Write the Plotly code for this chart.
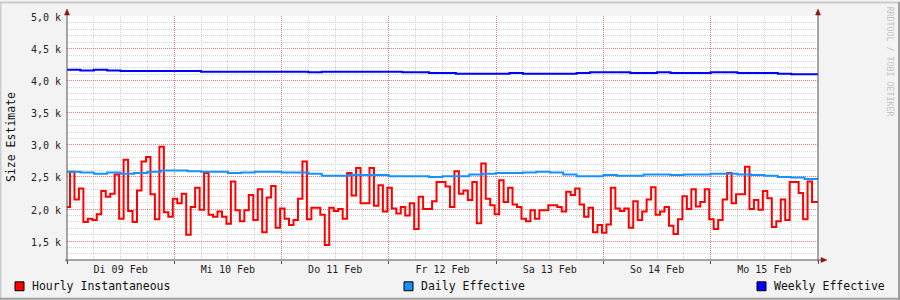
import plotly.graph_objects as go
import pandas as pd

# ---------------- data ----------------
hourly = [
    2.03, 2.58, 2.15, 2.32, 1.80, 1.85, 1.83, 1.92, 2.28, 2.19, 2.24, 2.54, 1.85, 2.77, 1.97, 1.80,
    2.29, 2.74, 2.81, 2.23, 1.84, 2.97, 1.95, 1.88, 2.16, 2.09, 2.24, 1.60,
    2.03, 2.33, 1.99, 2.56, 1.91, 1.88, 1.96, 1.88, 1.77, 2.43, 1.98, 1.81, 1.98, 2.22, 1.83, 2.31,
    1.64, 2.18, 2.36, 1.71, 2.01, 1.85, 1.75, 1.83, 2.16, 2.74, 1.84, 2.02,
    2.02, 1.91, 1.44, 2.02, 1.97, 2.00, 1.85, 2.56, 2.21, 2.64, 2.09, 2.09, 2.64, 2.05, 2.37, 1.96,
    2.33, 2.01, 1.93, 2.03, 1.90, 2.09, 1.69, 2.19, 2.00, 2.00, 2.12, 2.42,
    2.42, 2.35, 2.03, 2.59, 2.24, 2.29, 2.14, 2.42, 1.78, 2.71, 2.16, 2.06, 1.92, 2.45, 2.11, 2.33,
    2.07, 2.03, 1.85, 1.81, 1.98, 1.85, 1.98, 1.98, 2.06, 2.06, 2.03, 1.96, 2.27,
    2.22, 2.32, 2.07, 1.88, 2.02, 1.64, 1.75, 1.63, 1.76, 2.33, 2.01, 1.97, 2.01, 1.71, 2.12, 1.83,
    1.96, 2.15, 2.34, 1.91, 1.96, 2.03, 1.74, 1.61, 1.84, 2.20, 2.00, 2.31,
    2.04, 2.11, 2.31, 1.84, 1.69, 1.83, 2.15, 2.56, 2.09, 2.23, 2.23, 2.66, 2.00, 2.14, 1.99, 2.28,
    2.17, 1.72, 1.81, 2.15, 1.83, 2.42, 2.42, 2.25, 1.84, 2.43, 2.11,
]
daily = [
    2.58, 2.57, 2.55, 2.57, 2.55, 2.56, 2.58, 2.60, 2.60, 2.59, 2.58, 2.58, 2.56, 2.57, 2.58, 2.58,
    2.57, 2.57, 2.55, 2.52, 2.52, 2.53, 2.53, 2.53, 2.51, 2.51, 2.51, 2.50, 2.51, 2.51, 2.54, 2.55,
    2.56, 2.56, 2.57, 2.58, 2.57, 2.54, 2.51, 2.51, 2.53, 2.52, 2.52, 2.54, 2.54, 2.53, 2.54, 2.54,
    2.55, 2.55, 2.54, 2.53, 2.52, 2.50, 2.49, 2.47,
]
weekly = [
    4.17, 4.16, 4.17, 4.16, 4.15, 4.15, 4.15, 4.15, 4.15, 4.15, 4.14, 4.14, 4.14, 4.14, 4.14, 4.14,
    4.14, 4.14, 4.13, 4.14, 4.14, 4.14, 4.14, 4.14, 4.14, 4.13, 4.13, 4.12, 4.12, 4.11, 4.11, 4.11,
    4.11, 4.12, 4.11, 4.11, 4.11, 4.11, 4.12, 4.13, 4.13, 4.13, 4.12, 4.12, 4.13, 4.12, 4.12, 4.12,
    4.13, 4.13, 4.12, 4.12, 4.12, 4.11, 4.10, 4.10,
]
day_labels = ["Di 09 Feb", "Mi 10 Feb", "Do 11 Feb", "Fr 12 Feb", "Sa 13 Feb", "So 14 Feb", "Mo 15 Feb"]
y_tick_vals = [1.5, 2.0, 2.5, 3.0, 3.5, 4.0, 4.5, 5.0]
y_tick_text = ["1,5 k", "2,0 k", "2,5 k", "3,0 k", "3,5 k", "4,0 k", "4,5 k", "5,0 k"]
series_names = ["Hourly Instantaneous", "Daily Effective", "Weekly Effective"]

# ---------------- time axes ----------------
start = pd.Timestamp("2016-02-09 00:00")
end = pd.Timestamp("2016-02-16 00:00")
t_hourly = pd.date_range("2016-02-08 23:40", periods=len(hourly), freq="h")
t_3h = pd.date_range(start, periods=len(daily), freq="3h")
midnights = pd.date_range(start, end, freq="D")
noons = pd.date_range("2016-02-09 12:00", periods=len(day_labels), freq="D")


def extend(t, v):
    return list(t) + [end], list(v) + [v[-1]]


colors = ["#ff0000", "#1592ff", "#0000ff"]
MONO = "DejaVu Sans Mono"

fig = go.Figure()
for t, v, c, n in [(t_hourly, hourly, colors[0], series_names[0]),
                   (t_3h, daily, colors[1], series_names[1]),
                   (t_3h, weekly, colors[2], series_names[2])]:
    xx, yy = extend(t, v)
    fig.add_trace(go.Scatter(x=xx, y=yy, mode="lines", name=n,
                             line=dict(color=c, width=2, shape="hv"),
                             hoverinfo="skip", showlegend=False))
# empty helper trace so the label axis (noon-centred day labels) is rendered
fig.add_trace(go.Scatter(x=[start, end], y=[None, None], xaxis="x2", yaxis="y", mode="lines",
                         hoverinfo="skip", showlegend=False))

# geometry helpers (pixel -> paper) for decorations
L, R, T, B = 67, 82, 14, 40
W, H = 900 - L - R, 300 - T - B
def PX(x): return (x - L) / W
def PY(y): return (300 - B - y) / H

YR = [1.206, 5.008]
XR = [start, end]
MAJ = "rgb(238,125,125)"
MIN = "rgb(212,212,212)"
AX = "rgb(90,80,80)"
ARROW = "rgb(140,20,20)"
DASH = "1px,1px"
TICKFONT = dict(family=MONO, size=10, color="#222222")

fig.update_layout(
    width=900, height=300,
    margin=dict(l=L, r=R, t=T, b=B),
    paper_bgcolor="#f3f3f3", plot_bgcolor="#ffffff",
    showlegend=False,
    font=dict(family=MONO, size=10, color="#222222"),
    xaxis=dict(type="date", range=XR, tickvals=list(midnights), showticklabels=False,
               showgrid=True, gridcolor=MAJ, griddash=DASH, gridwidth=1,
               ticks="outside", ticklen=3, tickcolor=AX,
               minor=dict(dtick=6 * 3600 * 1000, tick0="2016-02-09", showgrid=True,
                          gridcolor=MIN, griddash=DASH),
               showline=False, zeroline=False, fixedrange=True),
    xaxis2=dict(type="date", range=XR, overlaying="x", anchor="y", side="bottom",
                tickvals=list(noons), ticktext=day_labels, showgrid=False, ticks="",
                ticklabelstandoff=2, tickfont=TICKFONT, showline=False, zeroline=False,
                fixedrange=True),
    yaxis=dict(range=YR, tickvals=y_tick_vals, ticktext=y_tick_text, showgrid=True,
               gridcolor=MAJ, griddash=DASH, gridwidth=1, ticks="",
               ticklabelstandoff=5, ticklabelshift=1,
               minor=dict(dtick=0.1, tick0=1.2, showgrid=True, gridcolor=MIN, griddash=DASH),
               showline=False, zeroline=False, fixedrange=True, tickfont=TICKFONT),
    yaxis2=dict(range=YR, overlaying="y", side="right", anchor="x", tickvals=y_tick_vals,
                ticktext=y_tick_text, showgrid=False, ticks="", ticklabelstandoff=18,
                ticklabelshift=1, showline=False, zeroline=False, tickfont=TICKFONT),
)

shapes = []
# axis lines
shapes.append(dict(type="line", xref="paper", yref="paper", x0=PX(67), x1=PX(67), y0=PY(262), y1=PY(11),
                   line=dict(color=AX, width=1)))
shapes.append(dict(type="line", xref="paper", yref="paper", x0=PX(818), x1=PX(818), y0=PY(262), y1=PY(11),
                   line=dict(color=AX, width=1)))
shapes.append(dict(type="line", xref="paper", yref="paper", x0=PX(65), x1=PX(822), y0=PY(260), y1=PY(260),
                   line=dict(color=AX, width=1)))
# arrows
def tri(pts):
    p = "M " + " L ".join(f"{PX(a)},{PY(b)}" for a, b in pts) + " Z"
    return dict(type="path", xref="paper", yref="paper", path=p, fillcolor=ARROW,
                line=dict(color=ARROW, width=0.5))
shapes.append(tri([(67, 7), (64.5, 13), (69.5, 13)]))
shapes.append(tri([(818, 7), (815.5, 13), (820.5, 13)]))
shapes.append(tri([(827, 260), (821, 257.5), (821, 262.5)]))
# legend boxes
for x0, c in [(15, colors[0]), (404, colors[1]), (757, colors[2])]:
    shapes.append(dict(type="rect", xref="paper", yref="paper", x0=PX(x0), x1=PX(x0 + 9),
                       y0=PY(291), y1=PY(282), fillcolor=c, line=dict(color="#000000", width=1)))
# canvas border
shapes.append(dict(type="line", xref="paper", yref="paper", x0=PX(0), x1=PX(900), y0=PY(0.5), y1=PY(0.5),
                   line=dict(color="#cccccc", width=2)))
shapes.append(dict(type="line", xref="paper", yref="paper", x0=PX(0.5), x1=PX(0.5), y0=PY(0), y1=PY(300),
                   line=dict(color="#cccccc", width=2)))
shapes.append(dict(type="line", xref="paper", yref="paper", x0=PX(0), x1=PX(900), y0=PY(299), y1=PY(299),
                   line=dict(color="#a0a0a0", width=2)))
shapes.append(dict(type="line", xref="paper", yref="paper", x0=PX(899), x1=PX(899), y0=PY(0), y1=PY(300),
                   line=dict(color="#a0a0a0", width=2)))
fig.update_layout(shapes=shapes)

ann = []
for x0, n in [(30, series_names[0]), (419, series_names[1]), (772, series_names[2])]:
    ann.append(dict(text=n, xref="paper", yref="paper", x=PX(x0), y=PY(286.5), xanchor="left",
                    yanchor="middle", showarrow=False, font=dict(family=MONO, size=11.5, color="#111111")))
ann.append(dict(text="Size Estimate", xref="paper", yref="paper", x=PX(11), y=PY(136), textangle=-90,
                xanchor="center", yanchor="middle", showarrow=False,
                font=dict(family=MONO, size=11.5, color="#111111")))
ann.append(dict(text="RRDTOOL / TOBI OETIKER", xref="paper", yref="paper", x=PX(890), y=PY(60),
                textangle=90, xanchor="center", yanchor="middle", showarrow=False,
                font=dict(family=MONO, size=8.3, color="#c4c4c4")))
fig.update_layout(annotations=ann)

fig.write_html("out.html", config=dict(displayModeBar=False))
